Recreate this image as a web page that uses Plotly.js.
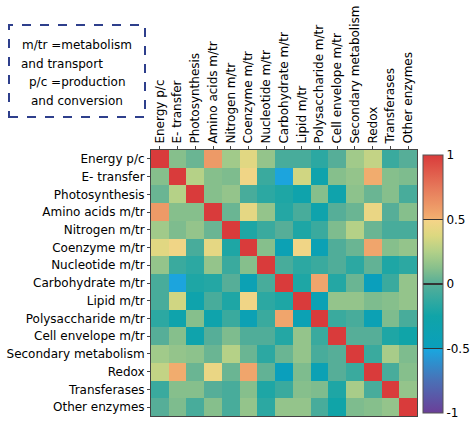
<!DOCTYPE html>
<html>
<head>
<meta charset="utf-8">
<script src="https://cdn.plot.ly/plotly-3.0.1.min.js"></script>
<style>
html,body{margin:0;padding:0;background:#fff;}
#chart{width:472px;height:421px;}
</style>
</head>
<body>
<div id="chart"></div>
<script>
var categories = ["Energy p/c","E- transfer","Photosynthesis","Amino acids m/tr","Nitrogen m/tr",
  "Coenzyme m/tr","Nucleotide m/tr","Carbohydrate m/tr","Lipid m/tr","Polysaccharide m/tr",
  "Cell envelope m/tr","Secondary metabolism","Redox","Transferases","Other enzymes"];

var rowEnergy        = [1, 0.12, 0.05, 0.6, 0.2, 0.4, 0.16, -0.05, -0.05, -0.15, 0, 0.2, 0.3, -0.1, 0];
var rowETransfer     = [0.12, 1, 0.26, 0.12, 0.1, 0.47, -0.1, -0.52, 0.34, -0.3, 0.12, 0.16, 0.52, 0.12, 0.1];
var rowPhoto         = [0.05, 0.26, 1, 0.12, 0.16, -0.05, -0.15, -0.2, -0.3, 0.12, -0.3, 0.14, 0.05, 0.12, -0.05];
var rowAmino         = [0.6, 0.12, 0.12, 1, 0.05, 0.42, 0.16, -0.18, -0.05, -0.3, 0, 0.05, 0.44, 0, 0.12];
var rowNitrogen      = [0.2, 0.1, 0.16, 0.05, 1, -0.2, -0.1, 0, -0.2, -0.1, 0.1, 0.26, 0.05, -0.05, -0.05];
var rowCoenzyme      = [0.4, 0.47, -0.05, 0.42, -0.2, 1, 0.12, -0.4, 0.47, -0.4, -0.02, 0.05, 0.55, 0.12, 0.16];
var rowNucleotide    = [0.16, -0.1, -0.15, 0.16, -0.1, 0.12, 1, -0.05, -0.15, -0.1, -0.02, -0.15, 0.03, -0.2, -0.15];
var rowCarbohydrate  = [-0.05, -0.52, -0.2, -0.18, 0, -0.4, -0.05, 1, -0.2, 0.55, -0.18, 0.05, -0.5, -0.1, 0.16];
var rowLipid         = [-0.05, 0.34, -0.3, -0.05, -0.2, 0.47, -0.15, -0.2, 1, -0.4, 0.16, 0.16, 0.1, 0.12, 0.16];
var rowPolysacch     = [-0.15, -0.3, 0.12, -0.3, -0.1, -0.4, -0.1, 0.55, -0.4, 1, -0.1, -0.05, -0.4, 0.1, -0.05];
var rowCellEnvelope  = [0, 0.12, -0.3, 0, 0.1, -0.02, -0.02, -0.18, 0.16, -0.1, 1, 0, 0, -0.2, -0.25];
var rowSecondary     = [0.2, 0.16, 0.14, 0.05, 0.26, 0.05, -0.15, 0.05, 0.16, -0.05, 0, 1, -0.1, 0.22, 0.1];
var rowRedox         = [0.3, 0.52, 0.05, 0.44, 0.05, 0.55, 0.03, -0.5, 0.1, -0.4, 0, -0.1, 1, -0.05, 0.12];
var rowTransferases  = [-0.1, 0.12, 0.12, 0, -0.05, 0.12, -0.2, -0.1, 0.12, 0.1, -0.2, 0.22, -0.05, 1, 0.16];
var rowOther         = [0, 0.1, -0.05, 0.12, -0.05, 0.16, -0.15, 0.16, 0.16, -0.05, -0.25, 0.1, 0.12, 0.16, 1];

var colorbarTicks = [-1, -0.5, 0, 0.5, 1];
var colorbarTickText = ["-1", "-0.5", "0", "0.5", "1"];
var noteLines = ["m/tr =metabolism", "and transport", "p/c =production", "and conversion"];

var z = [rowEnergy, rowETransfer, rowPhoto, rowAmino, rowNitrogen, rowCoenzyme, rowNucleotide,
  rowCarbohydrate, rowLipid, rowPolysacch, rowCellEnvelope, rowSecondary, rowRedox, rowTransferases, rowOther];

var colorscale = [
  [0, '#6b3f98'],
  [0.125, '#4a70b6'],
  [0.25, '#18a8e0'],
  [0.25, '#0a9fbc'],
  [0.375, '#10a4a8'],
  [0.5, '#56ae98'],
  [0.5625, '#88c08c'],
  [0.625, '#b2d088'],
  [0.6875, '#dcd880'],
  [0.75, '#f6d488'],
  [0.75, '#f2b070'],
  [0.875, '#e6785a'],
  [1, '#d93b3b']
];

var font = {family: 'DejaVu Sans, sans-serif', size: 12, color: '#000'};

var trace = {
  type: 'heatmap',
  x: categories,
  y: categories,
  z: z,
  zmin: -1,
  zmax: 1,
  colorscale: colorscale,
  xgap: 0, ygap: 0,
  colorbar: {
    x: 1.0226, xanchor: 'left',
    y: 0.496, yanchor: 'middle',
    thickness: 20,
    lenmode: 'pixels', len: 258,
    xpad: 0, ypad: 0,
    outlinewidth: 1, outlinecolor: '#555',
    tickvals: colorbarTicks,
    ticktext: colorbarTickText,
    ticks: 'inside', ticklen: 20, tickwidth: 1.2, tickcolor: '#333',
    tickfont: font
  }
};

var W = 266, L = 151, T = 150;
function px2x(px){ return (px - L) / W; }
function py2y(py){ return (T + W - py) / W; }

var notePos = [[20, 45], [19, 64], [27, 82], [29, 101]];
var annotations = noteLines.map(function(t, i){
  return {
    text: t, xref: 'paper', yref: 'paper',
    x: px2x(notePos[i][0]), y: py2y(notePos[i][1]),
    xanchor: 'left', yanchor: 'middle', showarrow: false,
    font: {family: 'DejaVu Sans, sans-serif', size: 12, color: '#000'}
  };
});

var layout = {
  width: 472, height: 421,
  margin: {l: L, r: 472 - L - W, t: T, b: 421 - T - W, pad: 0, autoexpand: false},
  paper_bgcolor: '#fff', plot_bgcolor: '#fff',
  font: font,
  xaxis: {
    side: 'top', tickangle: -90, type: 'category', automargin: false,
    showgrid: false, zeroline: false,
    showline: true, mirror: true, linecolor: '#444', linewidth: 1,
    ticks: 'outside', ticklen: 3, tickcolor: '#444',
    tickfont: font
  },
  yaxis: {
    autorange: 'reversed', type: 'category', automargin: false,
    showgrid: false, zeroline: false,
    showline: true, mirror: true, linecolor: '#444', linewidth: 1,
    ticks: 'outside', ticklen: 3, tickcolor: '#444',
    tickfont: font
  },
  shapes: [{
    type: 'rect', xref: 'paper', yref: 'paper',
    x0: px2x(9), x1: px2x(145), y0: py2y(117), y1: py2y(25),
    line: {color: '#2e3f8c', width: 2, dash: 'dash'},
    fillcolor: 'rgba(0,0,0,0)'
  }],
  annotations: annotations
};

Plotly.newPlot('chart', [trace], layout, {displayModeBar: false, staticPlot: true});
</script>
</body>
</html>
